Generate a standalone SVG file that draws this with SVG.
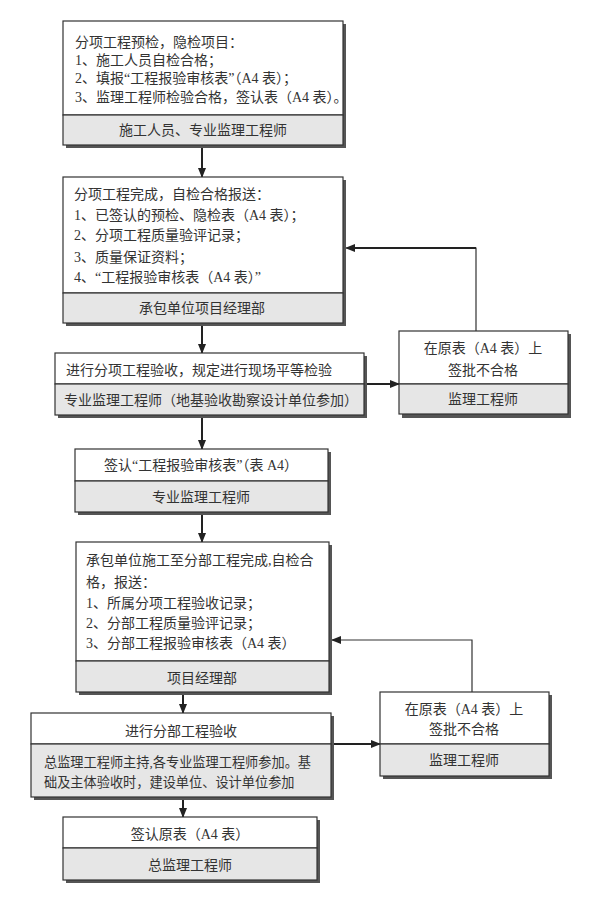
<svg xmlns="http://www.w3.org/2000/svg" width="593" height="900" viewBox="0 0 593 900">
<defs>
<marker id="arr" markerWidth="10" markerHeight="8" refX="9" refY="4" orient="auto" markerUnits="userSpaceOnUse">
<path d="M0,0 L10,4 L0,8 Z" fill="#222"/>
</marker>
</defs>
<style>
text{font-family:"Liberation Serif","Noto Sans CJK SC",serif;font-size:14px;fill:#333}
.c{text-anchor:middle}
.sh{fill:#555}
.top{fill:#fff;stroke:#333;stroke-width:1.2}
.band{fill:#e6e6e6;stroke:#333;stroke-width:1.2}
.ln{stroke:#222;stroke-width:2;fill:none}
.fb{stroke:#333;stroke-width:1.2;fill:none}
</style>
<rect width="593" height="900" fill="#fff"/>

<g id="connectors">
<line class="ln" x1="202" y1="148" x2="202" y2="177" marker-end="url(#arr)"/>
<line class="ln" x1="202" y1="326" x2="202" y2="353" marker-end="url(#arr)"/>
<line class="ln" x1="202" y1="418" x2="202" y2="449" marker-end="url(#arr)"/>
<line class="ln" x1="202" y1="515" x2="202" y2="542" marker-end="url(#arr)"/>
<line class="ln" x1="183" y1="695" x2="183" y2="713" marker-end="url(#arr)"/>
<line class="ln" x1="183" y1="800" x2="183" y2="817" marker-end="url(#arr)"/>
<line class="ln" x1="367" y1="384" x2="399" y2="384" marker-end="url(#arr)"/>
<line class="ln" x1="334" y1="744" x2="380" y2="744" marker-end="url(#arr)"/>
<path class="fb" d="M476,331 V248 H346" marker-end="url(#arr)"/>
<line class="ln" x1="476" y1="248" x2="352" y2="248"/>
<path class="fb" d="M472,692 V640 H332" marker-end="url(#arr)"/>
</g>

<g id="n1">
<rect class="sh" x="66" y="24" width="280" height="124"/>
<rect class="top" x="63" y="21" width="280" height="94"/>
<rect class="band" x="63" y="115" width="280" height="30"/>
<text x="75" y="47">分项工程预检，隐检项目：</text>
<text x="75" y="65">1、施工人员自检合格；</text>
<text x="75" y="83">2、填报“工程报验审核表”（A4 表）；</text>
<text x="75" y="102">3、监理工程师检验合格，签认表（A4 表）。</text>
<text class="c" x="203" y="135">施工人员、专业监理工程师</text>
</g>

<g id="n2">
<rect class="sh" x="66" y="180" width="280" height="146"/>
<rect class="top" x="63" y="177" width="280" height="116"/>
<rect class="band" x="63" y="293" width="280" height="30"/>
<text x="74" y="199">分项工程完成，自检合格报送：</text>
<text x="74" y="220">1、已签认的预检、隐检表（A4 表）；</text>
<text x="74" y="240">2、分项工程质量验评记录；</text>
<text x="74" y="262">3、质量保证资料；</text>
<text x="74" y="282">4、“工程报验审核表（A4 表）”</text>
<text class="c" x="202" y="313">承包单位项目经理部</text>
</g>

<g id="n3">
<rect class="sh" x="58" y="356" width="309" height="62"/>
<rect class="top" x="55" y="353" width="309" height="31"/>
<rect class="band" x="55" y="384" width="309" height="31"/>
<text x="66" y="375">进行分项工程验收，规定进行现场平等检验</text>
<text x="64" y="405">专业监理工程师（地基验收勘察设计单位参加）</text>
</g>

<g id="n4">
<rect class="sh" x="402" y="334" width="169" height="84"/>
<rect class="top" x="399" y="331" width="169" height="53"/>
<rect class="band" x="399" y="384" width="169" height="30"/>
<text class="c" x="483" y="353">在原表（A4 表）上</text>
<text class="c" x="483" y="375">签批不合格</text>
<text class="c" x="483" y="404">监理工程师</text>
</g>

<g id="n5">
<rect class="sh" x="78" y="452" width="253" height="63"/>
<rect class="top" x="75" y="449" width="253" height="32"/>
<rect class="band" x="75" y="481" width="253" height="31"/>
<text class="c" x="201" y="470">签认“工程报验审核表”（表 A4）</text>
<text class="c" x="201" y="502">专业监理工程师</text>
</g>

<g id="n6">
<rect class="sh" x="79" y="545" width="253" height="150"/>
<rect class="top" x="76" y="542" width="253" height="119"/>
<rect class="band" x="76" y="661" width="253" height="31"/>
<text x="86" y="565">承包单位施工至分部工程完成,自检合</text>
<text x="86" y="587">格，报送：</text>
<text x="86" y="608">1、所属分项工程验收记录；</text>
<text x="86" y="628">2、分部工程质量验评记录；</text>
<text x="86" y="648">3、分部工程报验审核表（A4 表）</text>
<text class="c" x="202" y="683">项目经理部</text>
</g>

<g id="n7">
<rect class="sh" x="34" y="716" width="300" height="84"/>
<rect class="top" x="31" y="713" width="300" height="31"/>
<rect class="band" x="31" y="744" width="300" height="53"/>
<text class="c" x="181" y="736">进行分部工程验收</text>
<text x="44" y="767" style="font-size:13.2px">总监理工程师主持,各专业监理工程师参加。基</text>
<text x="44" y="787" style="font-size:13.2px">础及主体验收时，建设单位、设计单位参加</text>
</g>

<g id="n8">
<rect class="sh" x="383" y="695" width="169" height="84"/>
<rect class="top" x="380" y="692" width="169" height="52"/>
<rect class="band" x="380" y="744" width="169" height="32"/>
<text class="c" x="464" y="714">在原表（A4 表）上</text>
<text class="c" x="464" y="734">签批不合格</text>
<text class="c" x="464" y="765">监理工程师</text>
</g>

<g id="n9">
<rect class="sh" x="66" y="820" width="254" height="63"/>
<rect class="top" x="63" y="817" width="254" height="31"/>
<rect class="band" x="63" y="848" width="254" height="32"/>
<text class="c" x="190" y="839">签认原表（A4 表）</text>
<text class="c" x="190" y="870">总监理工程师</text>
</g>
</svg>
